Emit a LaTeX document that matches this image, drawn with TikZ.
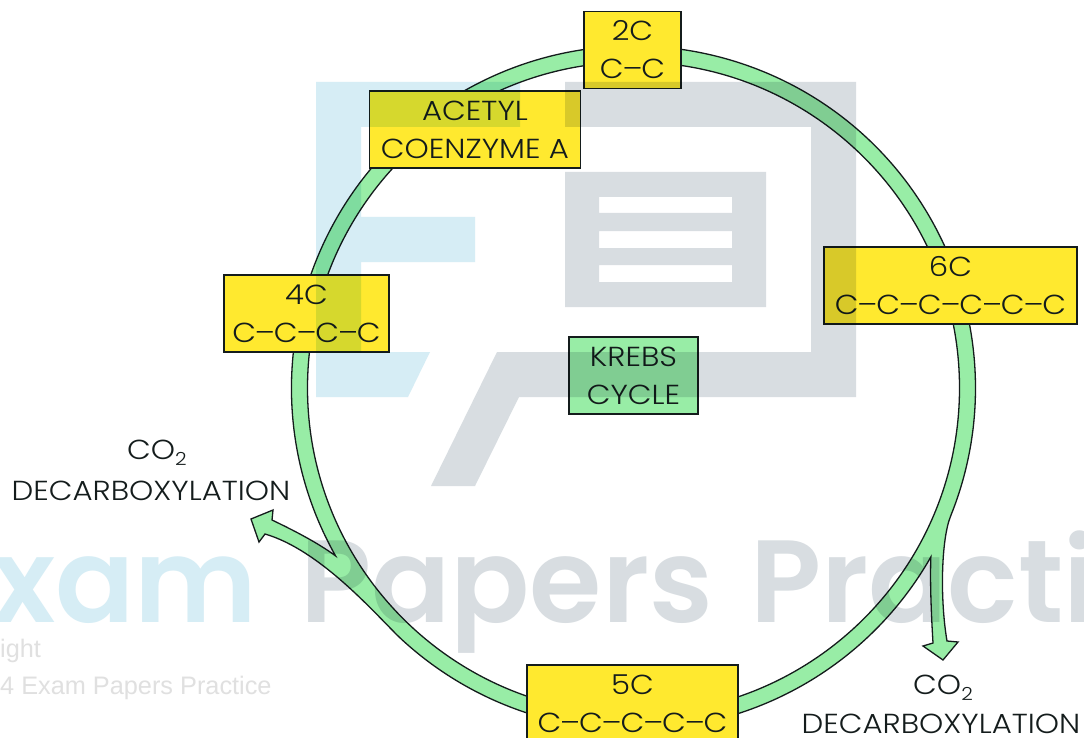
\documentclass[tikz,border=0pt]{standalone}
\usepackage{fontspec}
\setmainfont{Poppins Light}[FakeStretch=1.12]
\newfontfamily\wmfont{Poppins SemiBold}
\newfontfamily\smallwm{Liberation Sans}
\usetikzlibrary{calc}
\definecolor{ringgreen}{HTML}{98EDA6}
\definecolor{boxyellow}{HTML}{FFE92F}
\definecolor{ink}{HTML}{141C1C}
\definecolor{wmblue}{HTML}{D6EDF5}
\definecolor{wmgrey}{HTML}{D8DDE1}
\definecolor{wmsmall}{HTML}{E0E0E0}
\newcommand{\subtwo}{\raisebox{-0.42ex}{\fontsize{18}{18}\selectfont 2}}
\newcommand{\bond}{\kern-1.1pt--\kern-1.1pt}
\tikzset{
  lab/.style={font=\fontsize{27.5}{38}\selectfont, text=ink, inner sep=0pt, align=center},
  card/.style={lab, draw=ink, line width=1.3pt, fill=boxyellow, minimum height=77pt},
  krebsbox/.style={card, fill=ringgreen},
  ringshape/.style={draw=ink, line width=1.3pt, fill=ringgreen, even odd rule, line join=miter},
  bigmark/.style={font=\wmfont\fontsize{117}{117}\selectfont, inner sep=0pt, anchor=base west},
  tinymark/.style={font=\smallwm\fontsize{25.3}{25.3}\selectfont, text=wmsmall, inner sep=0pt, anchor=base west}
}
\begin{document}
\begin{tikzpicture}[x=1pt,y=-1pt]
\useasboundingbox (0,0) rectangle (1084,738);
\clip (0,0) rectangle (1084,738);
\fill[white] (0,0) rectangle (1084,738);
\coordinate (c) at (633.5,388);
\coordinate (crotchL) at ($(c)+(150.6:342)$);
\path[ringshape]
  (crotchL) arc[start angle=150.6,end angle=382,radius=342]
  .. controls (941,540) and (940,600) .. (947,641)
  -- (958,642) -- (943,660) -- (923,646) -- (933,643)
  .. controls (931,610) and (930,580) .. ($(c)+(29.6:342)$)
  arc[start angle=29.6,end angle=133.2,radius=342]
  .. controls (374,612.5) and (320,550) .. (265,534)
  -- (259,542) -- (251,519) -- (273,510) -- (272,520)
  .. controls (295,531) and (318,543) .. (crotchL) -- cycle
  (c) circle[radius=326];
\node[card,minimum width=97pt] (two) at (632.5,50) {2C\\C\bond C};
\node[card,minimum width=211pt] (acetyl) at (475,129.5) {ACETYL\\COENZYME\ A};
\node[card,minimum width=253pt] (six) at (950.5,285.5) {6C\\C\bond C\bond C\bond C\bond C\bond C};
\node[card,minimum width=165pt] (four) at (306.5,313.5) {4C\\C\bond C\bond C\bond C};
\node[card,minimum width=211pt] (five) at (632.5,703.5) {5C\\C\bond C\bond C\bond C\bond C};
\node[krebsbox,minimum width=129pt] (krebs) at (633.5,375.5) {KREBS\\CYCLE};
\node[lab] (co2L) at (157,453) {CO\subtwo};
\node[lab] (decL) at (151,491) {DECARBOXYLATION};
\node[lab] (co2R) at (943,688) {CO\subtwo};
\node[lab] (decR) at (941,724) {DECARBOXYLATION};
\begin{scope}[blend mode=multiply]
  \fill[wmblue] (316,82) -- (520,82) -- (520,127) -- (361,127) -- (361,217) -- (475,217)
    -- (475,262) -- (361,262) -- (361,352) -- (430,352) -- (408,397) -- (316,397) -- cycle;
  \fill[wmgrey] (565,82) -- (856,82) -- (856,397) -- (519,397) -- (475,486) -- (431,486)
    -- (497,352) -- (811,352) -- (811,127) -- (565,127) -- cycle;
  \fill[wmgrey,even odd rule] (565,172) rectangle (766,307)
    (599,197) rectangle (732,213) (599,231) rectangle (732,248) (599,265) rectangle (732,282);
  \node[bigmark,text=wmblue] (wmA) at (-8,622) {xam};
  \node[bigmark,text=wmgrey] (wmB) at (300,622) {Papers};
  \node[bigmark,text=wmgrey] (wmC) at (750,622) {Practi};
  \node[tinymark] (wmD) at (0,657) {ight};
  \node[tinymark] (wmE) at (0,694) {4 Exam Papers Practice};
\end{scope}
\end{tikzpicture}
\end{document}
